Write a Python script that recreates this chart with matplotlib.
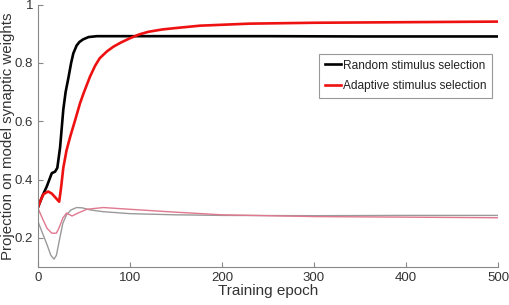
import matplotlib
matplotlib.use("Agg")
import matplotlib.pyplot as plt

plt.rcParams['font.family'] = ['Liberation Sans', 'DejaVu Sans']

# Random stimulus selection (main projection)
rand_epoch = [0, 5, 9.5, 15, 18.5, 21, 24, 27.5, 30, 33, 36, 38.4, 42, 45, 49, 55, 64, 80, 150, 250, 350, 500]
rand_value = [0.305, 0.345, 0.376, 0.422, 0.427, 0.44, 0.51, 0.64, 0.70, 0.748, 0.80, 0.833, 0.86, 0.872,
              0.881, 0.889, 0.892, 0.892, 0.892, 0.892, 0.891, 0.891]

# Adaptive stimulus selection (main projection)
adap_epoch = [0, 3, 6, 11, 15, 19, 23, 25, 27.5, 31, 35, 40, 45.7, 50, 56.5, 62, 67, 75, 82, 90, 100,
              110, 120, 135, 150, 176, 230, 300, 400, 500]
adap_value = [0.305, 0.33, 0.35, 0.359, 0.352, 0.338, 0.324, 0.37, 0.44, 0.50, 0.547, 0.60, 0.662, 0.70,
              0.753, 0.79, 0.816, 0.84, 0.856, 0.870, 0.885, 0.898, 0.907, 0.915, 0.92, 0.928, 0.935,
              0.938, 0.94, 0.942]

# Secondary (light) curves
rand2_epoch = [0, 5, 10, 14, 17.4, 20, 24, 27, 31, 36, 42, 48, 56.5, 70, 100, 150, 200, 300, 400, 500]
rand2_value = [0.256, 0.215, 0.175, 0.14, 0.127, 0.14, 0.204, 0.25, 0.279, 0.296, 0.304, 0.303, 0.296,
               0.29, 0.283, 0.279, 0.277, 0.276, 0.277, 0.277]

adap2_epoch = [0, 5, 10, 15, 20, 23, 27, 31, 34, 37, 42, 53, 71, 100, 150, 200, 250, 300, 400, 500]
adap2_value = [0.302, 0.265, 0.232, 0.216, 0.216, 0.235, 0.268, 0.285, 0.28, 0.275, 0.283, 0.298, 0.304,
               0.298, 0.288, 0.279, 0.276, 0.273, 0.271, 0.269]

x_ticks = [0, 100, 200, 300, 400, 500]
y_ticks = [0.2, 0.4, 0.6, 0.8, 1.0]
y_tick_labels = ["0.2", "0.4", "0.6", "0.8", "1"]

fig = plt.figure(figsize=(5.1, 3.05), dpi=100)
ax = fig.add_axes([0.0745, 0.1246, 0.902, 0.86])

ax.plot(rand2_epoch, rand2_value, color='#9a9a9a', lw=1.0)
ax.plot(adap2_epoch, adap2_value, color='#e0788f', lw=1.0)
ax.plot(rand_epoch, rand_value, color='black', lw=1.9, label='Random stimulus selection')
ax.plot(adap_epoch, adap_value, color='#ee1111', lw=1.9, label='Adaptive stimulus selection')

ax.set_xlim(0, 500)
ax.set_ylim(0.1, 1.0)
ax.set_xticks(x_ticks)
ax.set_yticks(y_ticks)
ax.set_yticklabels(y_tick_labels)

for s in ['top', 'right']:
    ax.spines[s].set_visible(False)
for s in ['left', 'bottom']:
    ax.spines[s].set_color('#888888')
    ax.spines[s].set_linewidth(0.8)
ax.tick_params(direction='in', length=3.5, color='#888888', labelcolor='#333333', labelsize=9.5)

ax.set_xlabel('Training epoch', fontsize=11, color='#333333', labelpad=0)
ax.set_ylabel('Projection on model synaptic weights', fontsize=10.8, color='#333333')
ax.yaxis.set_label_coords(-0.05, 0.5)

leg = ax.legend(loc='upper right', bbox_to_anchor=(0.986, 0.811), borderaxespad=0,
                fontsize=8.6, handlelength=1.35, handletextpad=0.15, fancybox=False,
                framealpha=1, edgecolor='#999999', borderpad=0.45, labelspacing=0.73)
leg.get_frame().set_linewidth(0.8)
for t in leg.get_texts():
    t.set_color('#222222')

fig.savefig('out.png', dpi=100)
